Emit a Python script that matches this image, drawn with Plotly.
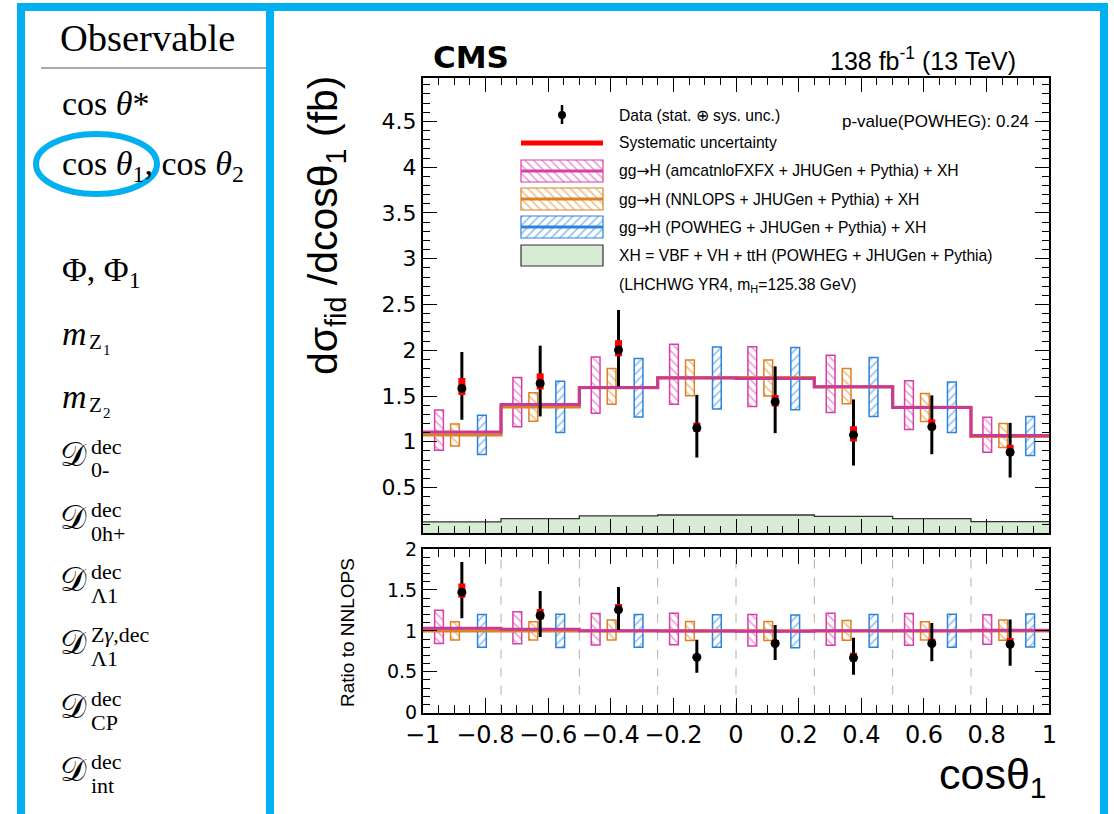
import numpy as np
import plotly.graph_objects as go

# ---------------- data ----------------
bin_edges = [-1.0, -0.75, -0.5, -0.25, 0.0, 0.25, 0.5, 0.75, 1.0]

# fiducial cross section per bin (fb)
data_val = [1.583, 1.638, 2.002, 1.152, 1.437, 1.075, 1.163, 0.886]
data_lo = [1.240, 1.277, 1.605, 0.828, 1.094, 0.740, 0.864, 0.609]
data_hi = [1.980, 2.050, 2.440, 1.513, 1.824, 1.463, 1.507, 1.207]
syst_lo = [1.510, 1.572, 1.933, 1.108, 1.386, 1.003, 1.130, 0.853]
syst_hi = [1.696, 1.747, 2.110, 1.210, 1.510, 1.170, 1.244, 0.966]

# gg->H predictions (+XH)
amc_val = [1.108, 1.408, 1.594, 1.696, 1.690, 1.600, 1.375, 1.069]
amc_lo = [0.908, 1.163, 1.313, 1.411, 1.386, 1.320, 1.135, 0.886]
amc_hi = [1.346, 1.703, 1.926, 2.065, 2.038, 1.944, 1.666, 1.269]

nnlops_val = [1.075, 1.380, 1.590, 1.700, 1.700, 1.600, 1.375, 1.060]
nnlops_lo = [0.955, 1.225, 1.410, 1.502, 1.499, 1.415, 1.222, 0.938]
nnlops_hi = [1.193, 1.535, 1.800, 1.893, 1.893, 1.800, 1.528, 1.200]

powheg_lo = [0.861, 1.100, 1.270, 1.357, 1.350, 1.277, 1.100, 0.850]
powheg_hi = [1.291, 1.660, 1.910, 2.035, 2.030, 1.920, 1.652, 1.277]

# XH = VBF + VH + ttH
xh_val = [0.124, 0.160, 0.190, 0.200, 0.200, 0.185, 0.160, 0.128]

y_tick_labels = [0.5, 1, 1.5, 2, 2.5, 3, 3.5, 4, 4.5]
# --------------------------------------

W, H = 1114, 814
PINK = "#d63fa8"
PINK_LINE = "#c8399a"
ORANGE = "#dd8125"
BLUE = "#2b83dc"
RED = "#ff0000"
GREEN_FILL = "#d8ebd5"
FRAME_BLUE = "#00b0f0"


def px(x):
    return x / W


def py(y):
    return 1 - y / H


edges = np.array(bin_edges)
centers = 0.5 * (edges[:-1] + edges[1:])
ref = np.array(nnlops_val)

BOX_W = 0.028
OFF_AMC, OFF_NNLO, OFF_POW = -0.073, -0.022, 0.064

fig = go.Figure()


def step_xy(vals):
    v = list(vals)
    return list(edges), v + [v[-1]]


def add_panel(xa, ya, scale, show_xh):
    s = np.array(scale)
    if show_xh:
        sx, sy = step_xy(np.array(xh_val) / s)
        fig.add_trace(go.Scatter(x=sx, y=sy, mode="lines", line=dict(shape="hv", color="#333333", width=1.3),
                                 fill="tozeroy", fillcolor=GREEN_FILL, xaxis=xa, yaxis=ya, showlegend=False))
    # hatched prediction bands
    for lo, hi, off, col, shp in [
        (amc_lo, amc_hi, OFF_AMC, PINK, "\\"),
        (nnlops_lo, nnlops_hi, OFF_NNLO, ORANGE, "\\"),
        (powheg_lo, powheg_hi, OFF_POW, BLUE, "/"),
    ]:
        lo_s = np.array(lo) / s
        hi_s = np.array(hi) / s
        fig.add_trace(go.Bar(
            x=centers + off, y=hi_s - lo_s, base=lo_s, width=BOX_W,
            marker=dict(color="rgba(0,0,0,0)", line=dict(color=col, width=1.5),
                        pattern=dict(shape=shp, fgcolor=col, bgcolor="rgba(0,0,0,0)", size=6, solidity=0.28)),
            xaxis=xa, yaxis=ya, showlegend=False))
    # central predictions
    sx, sy = step_xy(np.array(nnlops_val) / s)
    fig.add_trace(go.Scatter(x=sx, y=sy, mode="lines", line=dict(shape="hv", color=ORANGE, width=3.2),
                             xaxis=xa, yaxis=ya, showlegend=False))
    sx, sy = step_xy(np.array(amc_val) / s)
    fig.add_trace(go.Scatter(x=sx, y=sy, mode="lines", line=dict(shape="hv", color=PINK_LINE, width=3),
                             xaxis=xa, yaxis=ya, showlegend=False))
    # data: total uncertainty, systematic part, central value
    d = np.array(data_val) / s
    dlo = np.array(data_lo) / s
    dhi = np.array(data_hi) / s
    slo = np.array(syst_lo) / s
    shi = np.array(syst_hi) / s
    fig.add_trace(go.Scatter(x=centers, y=d, mode="markers", marker=dict(size=1, color="rgba(0,0,0,0)"),
                             error_y=dict(type="data", array=dhi - d, arrayminus=d - dlo, color="black",
                                          thickness=3, width=0),
                             xaxis=xa, yaxis=ya, showlegend=False))
    fig.add_trace(go.Scatter(x=centers, y=d, mode="markers", marker=dict(size=1, color="rgba(0,0,0,0)"),
                             error_y=dict(type="data", array=shi - d, arrayminus=d - slo, color=RED,
                                          thickness=7, width=0),
                             xaxis=xa, yaxis=ya, showlegend=False))
    fig.add_trace(go.Scatter(x=centers, y=d, mode="markers", marker=dict(size=9, color="black"),
                             xaxis=xa, yaxis=ya, showlegend=False))


add_panel("x", "y", np.ones(len(centers)), True)
add_panel("x2", "y2", ref, False)

# ---- legend icons (hatched boxes) on a pixel-space overlay axis ----
for yc, col, shp in [(171, PINK, "\\"), (199, ORANGE, "\\"), (227, BLUE, "/")]:
    fig.add_trace(go.Bar(x=[562], y=[22], base=[yc - 11], width=[82],
                         marker=dict(color="rgba(0,0,0,0)", line=dict(color=col, width=1.2),
                                     pattern=dict(shape=shp, fgcolor=col, bgcolor="rgba(0,0,0,0)", size=6,
                                                  solidity=0.28)),
                         xaxis="x3", yaxis="y3", showlegend=False))
    fig.add_trace(go.Scatter(x=[521, 603], y=[yc, yc], mode="lines", line=dict(color=col, width=3),
                             xaxis="x3", yaxis="y3", showlegend=False))
fig.add_trace(go.Scatter(x=[562, 562], y=[105, 124], mode="lines", line=dict(color="black", width=2.5),
                         xaxis="x3", yaxis="y3", showlegend=False))
fig.add_trace(go.Scatter(x=[562], y=[115], mode="markers", marker=dict(size=8, color="black"),
                         xaxis="x3", yaxis="y3", showlegend=False))

shapes = []
# legend: systematic line and XH box
shapes.append(dict(type="line", xref="paper", yref="paper", x0=px(521), x1=px(603), y0=py(143), y1=py(143),
                   line=dict(color=RED, width=5)))
shapes.append(dict(type="rect", xref="paper", yref="paper", x0=px(521), x1=px(603), y0=py(245), y1=py(266),
                   fillcolor=GREEN_FILL, line=dict(color="#333333", width=1.2)))

# dashed bin boundaries in the ratio panel
for e in bin_edges[1:-1]:
    shapes.append(dict(type="line", xref="x2", yref="y2 domain", x0=e, x1=e, y0=0, y1=1,
                       line=dict(color="#b0b0b0", width=1, dash="dash"), layer="below"))

# slide frames
shapes.append(dict(type="rect", xref="paper", yref="paper", x0=px(21), x1=px(270), y0=py(7), y1=py(818),
                   line=dict(color=FRAME_BLUE, width=8)))
shapes.append(dict(type="rect", xref="paper", yref="paper", x0=px(270), x1=px(1104), y0=py(7), y1=py(818),
                   line=dict(color=FRAME_BLUE, width=8)))
# table rule
shapes.append(dict(type="line", xref="paper", yref="paper", x0=px(41), x1=px(266), y0=py(68), y1=py(68),
                   line=dict(color="#555555", width=1.2)))
# highlight ellipse
shapes.append(dict(type="circle", xref="paper", yref="paper", x0=px(36), x1=px(157), y0=py(134), y1=py(194),
                   line=dict(color=FRAME_BLUE, width=6)))

ann = []


def text(x, y, s, size, family="Liberation Sans", xanchor="left", color="black", angle=0, yanchor="middle"):
    ann.append(dict(x=px(x), y=py(y), xref="paper", yref="paper", text=s, showarrow=False,
                    xanchor=xanchor, yanchor=yanchor, textangle=angle,
                    font=dict(size=size, family=family, color=color)))


# legend text
LEG = 15.7
ARROW = "<span style='font-family:DejaVu Sans'>\u2192</span>"
text(617, 116, "Data (stat. \u2295 sys. unc.)", LEG)
text(1031, 121, "p-value(POWHEG): 0.24", 17, xanchor="right")
text(617, 143, "Systematic uncertainty", LEG)
text(617, 171, "gg" + ARROW + "H (amcatnloFXFX + JHUGen + Pythia) + XH", LEG)
text(617, 199, "gg" + ARROW + "H (NNLOPS + JHUGen + Pythia) + XH", LEG)
text(617, 227, "gg" + ARROW + "H (POWHEG + JHUGen + Pythia) + XH", LEG)
text(617, 256, "XH = VBF + VH + ttH (POWHEG + JHUGen + Pythia)", LEG)
text(617, 285, "(LHCHWG YR4, m<sub>H</sub>=125.38 GeV)", LEG)

# header labels
text(431, 57, "<b>CMS</b>", 31, family="DejaVu Sans")
text(1018, 59, "138 fb<sup>-1</sup> (13 TeV)", 25, xanchor="right")

# axis titles
text(326, 225, "d\u03c3<sub>fid</sub> /dcos\u03b8<sub>1</sub> (fb)", 41, xanchor="center", angle=-90)
text(347, 633, "Ratio to NNLOPS", 19, xanchor="center", angle=-90)
text(1049, 777, "cos\u03b8<sub>1</sub>", 43, xanchor="right")

# observable table
SER = "Liberation Serif"
text(58, 38, "Observable", 38.5, family=SER)
text(60, 104, "cos <i>\u03b8</i>*", 34, family=SER)
text(60, 166, "cos <i>\u03b8</i><sub>1</sub>, cos <i>\u03b8</i><sub>2</sub>", 34, family=SER)
text(60, 272, "\u03a6, \u03a6<sub>1</sub>", 34, family=SER)
for yc, sub in [(333, "1"), (396, "2")]:
    text(60, yc, "<i>m</i>", 34, family=SER)
    text(87, yc + 9, "Z", 21, family=SER)
    text(101, yc + 17, sub, 15, family=SER)

d_rows = [
    (455, "dec", "0-"),
    (518, "dec", "0h+"),
    (580, "dec", "\u039b1"),
    (643, "Z<i>\u03b3</i>,dec", "\u039b1"),
    (707, "dec", "CP"),
    (770, "dec", "int"),
]
for yc, sup, sub in d_rows:
    text(58, yc, "\U0001D49F", 33, family=SER)
    text(89, yc - 9, sup, 22, family=SER)
    text(89, yc + 15, sub, 22, family=SER)

AX_FONT = "DejaVu Sans"
common_x = dict(range=[-1, 1], showline=True, linecolor="black", linewidth=1.5, mirror="allticks",
                ticks="inside", ticklen=15, tickwidth=1.3, tickcolor="black", tick0=-1, dtick=0.2,
                minor=dict(dtick=0.05, ticklen=8, tickcolor="black", tickwidth=1.2, ticks="inside"),
                showgrid=False, zeroline=False)

fig.update_layout(
    width=W, height=H, margin=dict(l=0, r=0, t=0, b=0, autoexpand=False),
    paper_bgcolor="white", plot_bgcolor="rgba(0,0,0,0)",
    barmode="overlay", showlegend=False,
    xaxis=dict(domain=[px(422.7), px(1049.3)], anchor="y", showticklabels=False, **common_x),
    yaxis=dict(domain=[py(533.3), py(77.5)], anchor="x", range=[0, 4.98], showline=True, linecolor="black",
               linewidth=1.5, mirror="allticks", ticks="inside", ticklen=15, tickwidth=1.3, tickcolor="black",
               tickmode="array", tickvals=y_tick_labels,
               tickfont=dict(size=22, family=AX_FONT, color="black"),
               minor=dict(tickmode="linear", tick0=0, dtick=0.1, ticklen=8, tickcolor="black", tickwidth=1.2,
                          ticks="inside"),
               showgrid=False, zeroline=False),
    xaxis2=dict(domain=[px(422.7), px(1049.3)], anchor="y2", matches="x",
                tickfont=dict(size=24, family=AX_FONT, color="black"), **common_x),
    yaxis2=dict(domain=[py(712.7), py(549)], anchor="x2", range=[0, 2], showline=True, linecolor="black",
                linewidth=1.5, mirror="allticks", ticks="inside", ticklen=15, tickwidth=1.3, tickcolor="black",
                tick0=0, dtick=0.5, tickfont=dict(size=19, family=AX_FONT, color="black"),
                minor=dict(dtick=0.1, ticklen=8, tickcolor="black", tickwidth=1.2, ticks="inside"),
                showgrid=False, zeroline=False),
    xaxis3=dict(domain=[0, 1], range=[0, W], visible=False, anchor="y3"),
    yaxis3=dict(domain=[0, 1], range=[H, 0], visible=False, anchor="x3"),
    shapes=shapes, annotations=ann,
)

fig.write_html("out.html", post_script="document.body.style.margin='0';document.body.style.overflow='hidden';")
